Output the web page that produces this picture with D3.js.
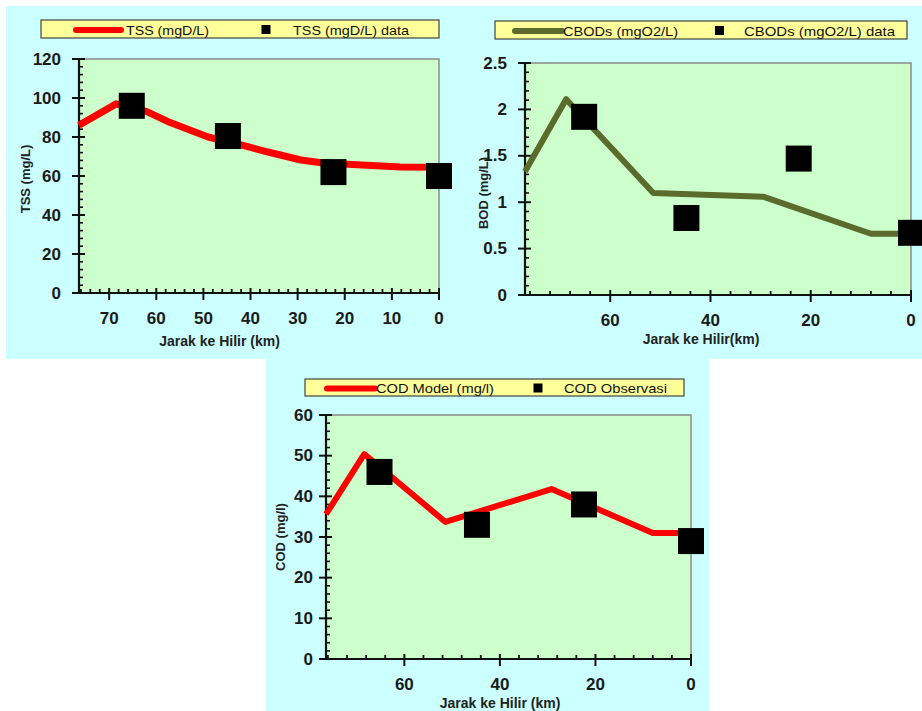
<!DOCTYPE html>
<html><head><meta charset="utf-8">
<script src="https://cdn.jsdelivr.net/npm/d3@7"></script>
<style>
body{margin:0;background:#fff}
svg{display:block}
text{font-family:"Liberation Sans",Arial,sans-serif}
</style>
</head><body>
<svg id="c" width="922" height="711"></svg>
<script>
// ---------- data ----------
const obsKm = [65.2, 44.8, 22.4, 0];

const tssModelKm  = [76.4, 68.5, 62, 57.6, 49, 42, 36.3, 29.3, 25, 19.4, 8.2, 0];
const tssModelVal = [86, 97, 93, 88, 80, 76, 72.3, 68.2, 66.8, 66, 64.6, 64.5];
const tssObs      = [96, 80.5, 62, 60];
const tssXTicks   = [70, 60, 50, 40, 30, 20, 10, 0];
const tssYTicks   = [0, 20, 40, 60, 80, 100, 120];

const bodModelKm  = [77, 68.8, 51.4, 29.5, 8, 0];
const bodModelVal = [1.33, 2.11, 1.10, 1.06, 0.66, 0.66];
const bodObs      = [1.92, 0.83, 1.47, 0.67];
const bodXTicks   = [60, 40, 20, 0];
const bodYTicks   = [0, 0.5, 1, 1.5, 2, 2.5];

const codModelKm  = [76.4, 68.4, 51.4, 29.2, 8, 0];
const codModelVal = [35.6, 50.4, 33.7, 41.8, 31, 31];
const codObs      = [46, 33, 38, 29];
const codXTicks   = [60, 40, 20, 0];
const codYTicks   = [0, 10, 20, 30, 40, 50, 60];

const legendLabels = [
  ["TSS (mgD/L)", "TSS (mgD/L) data"],
  ["CBODs (mgO2/L)", "CBODs (mgO2/L) data"],
  ["COD Model (mg/l)", "COD Observasi"]
];
const xTitles = ["Jarak ke Hilir (km)", "Jarak ke Hilir(km)", "Jarak ke Hilir (km)"];
const yTitles = ["TSS (mg/L)", "BOD (mg/L)", "COD (mg/l)"];

// ---------- layout ----------
const svg = d3.select("#c");
svg.append("rect").attr("x",6).attr("y",6).attr("width",916).attr("height",353).attr("fill","#ccffff");
svg.append("rect").attr("x",266).attr("y",358).attr("width",443).attr("height",353).attr("fill","#ccffff");

const panels = [
  {frame:{x0:79,x1:439,y0:59,y1:293}, xd:[76.4,0], yd:[0,120], xmin:2, ymin:4,
   xt:tssXTicks, yt:tssYTicks, fmt:d=>d, mk:tssModelKm, mv:tssModelVal, ov:tssObs,
   color:"#ff0000", lw:7, lab:18, xdy:25,
   leg:{x:41,y:20,w:398,h:18,l0:76,l1:121,t1:126,w1:83,m:266,t2:293,w2:116},
   xtPos:[219.5,341], ytPos:[25,179], li:0},
  {frame:{x0:525,x1:911,y0:63,y1:295}, xd:[77,0], yd:[0,2.5], xmin:4, ymin:0.1,
   xt:bodXTicks, yt:bodYTicks, fmt:d=>d, mk:bodModelKm, mv:bodModelVal, ov:bodObs,
   color:"#5a6b2c", lw:6, lab:18, xdy:25,
   leg:{x:495,y:21,w:412,h:18,l0:515,l1:562,t1:563,w1:115,m:719.5,t2:744,w2:151},
   xtPos:[701,339], ytPos:[483,193], li:1},
  {frame:{x0:326,x1:691,y0:415,y1:659}, xd:[76.4,0], yd:[0,60], xmin:4, ymin:2,
   xt:codXTicks, yt:codYTicks, fmt:d=>d, mk:codModelKm, mv:codModelVal, ov:codObs,
   color:"#ff0000", lw:6, lab:13, xdy:25,
   leg:{x:305,y:379,w:379,h:17,l0:327,l1:375,t1:376,w1:118,m:538,t2:564,w2:103},
   xtPos:[500,703], ytPos:[280,537], li:2}
];

panels.forEach(p => {
  const f = p.frame;
  const x = d3.scaleLinear().domain(p.xd).range([f.x0, f.x1]);
  const y = d3.scaleLinear().domain(p.yd).range([f.y1, f.y0]);
  const g = svg.append("g");

  // plot area
  g.append("rect").attr("x",f.x0).attr("y",f.y0).attr("width",f.x1-f.x0).attr("height",f.y1-f.y0)
    .attr("fill","#ccffcc");
  g.append("path").attr("d",`M${f.x0},${f.y0}H${f.x1}V${f.y1}`).attr("fill","none")
    .attr("stroke","#8a8a8a").attr("stroke-width",1.5);

  // minor ticks
  const eps = 1e-9;
  const xMinor = d3.range(0, p.xd[0]+eps, p.xmin).filter(v => !p.xt.some(t=>Math.abs(t-v)<eps));
  const yMinor = d3.range(0, p.yd[1]+eps, p.ymin).filter(v => !p.yt.some(t=>Math.abs(t-v)<1e-6));
  g.selectAll(null).data(xMinor).join("line")
    .attr("x1",d=>x(d)).attr("x2",d=>x(d)).attr("y1",f.y1).attr("y2",f.y1-4)
    .attr("stroke","#111").attr("stroke-width",1.8);
  g.selectAll(null).data(yMinor).join("line")
    .attr("y1",d=>y(d)).attr("y2",d=>y(d)).attr("x1",f.x0).attr("x2",f.x0+4)
    .attr("stroke","#111").attr("stroke-width",1.6);

  // major ticks
  g.selectAll(null).data(p.xt).join("line")
    .attr("x1",d=>x(d)).attr("x2",d=>x(d)).attr("y1",f.y1-5).attr("y2",f.y1+7)
    .attr("stroke","#111").attr("stroke-width",2);
  g.selectAll(null).data(p.yt).join("line")
    .attr("y1",d=>y(d)).attr("y2",d=>y(d)).attr("x1",f.x0-7).attr("x2",f.x0+6)
    .attr("stroke","#111").attr("stroke-width",2);

  // axes lines
  g.append("line").attr("x1",f.x0-7).attr("x2",f.x1).attr("y1",f.y1).attr("y2",f.y1)
    .attr("stroke","#111").attr("stroke-width",2.2);
  g.append("line").attr("x1",f.x0).attr("x2",f.x0).attr("y1",f.y0).attr("y2",f.y1)
    .attr("stroke","#111").attr("stroke-width",2.2);

  // tick labels
  g.selectAll(null).data(p.xt).join("text")
    .attr("x",d=>x(d)).attr("y",f.y1+p.xdy).attr("text-anchor","middle")
    .attr("dominant-baseline","central").attr("font-size",17).attr("font-weight","bold")
    .attr("fill","#1a1a1a").text(p.fmt);
  g.selectAll(null).data(p.yt).join("text")
    .attr("x",f.x0-p.lab).attr("y",d=>y(d)).attr("text-anchor","end")
    .attr("dominant-baseline","central").attr("font-size",17).attr("font-weight","bold")
    .attr("fill","#1a1a1a").text(p.fmt);

  // axis titles
  g.append("text").attr("x",p.xtPos[0]).attr("y",p.xtPos[1]).attr("text-anchor","middle")
    .attr("dominant-baseline","central").attr("font-size",14).attr("font-weight","bold")
    .attr("fill","#222").text(xTitles[p.li]);
  g.append("text").attr("transform",`translate(${p.ytPos[0]},${p.ytPos[1]}) rotate(-90)`)
    .attr("text-anchor","middle").attr("dominant-baseline","central")
    .attr("font-size",13).attr("font-weight","bold").attr("fill","#222").text(yTitles[p.li]);

  // model line
  const pts = p.mk.map((k,i)=>[k,p.mv[i]]);
  g.append("path").datum(pts)
    .attr("d", d3.line().x(d=>x(d[0])).y(d=>y(d[1])))
    .attr("fill","none").attr("stroke",p.color).attr("stroke-width",p.lw)
    .attr("stroke-linejoin","round").attr("stroke-linecap","butt");

  // observation markers
  const s = 26;
  g.selectAll(null).data(obsKm.map((k,i)=>[k,p.ov[i]])).join("rect")
    .attr("x",d=>x(d[0])-s/2).attr("y",d=>y(d[1])-s/2).attr("width",s).attr("height",s)
    .attr("fill","#000");

  // legend
  const L = p.leg;
  const lg = svg.append("g");
  lg.append("rect").attr("x",L.x).attr("y",L.y).attr("width",L.w).attr("height",L.h)
    .attr("fill","#ffff99").attr("stroke","#444").attr("stroke-width",1.2);
  const cy = L.y + L.h/2;
  lg.append("line").attr("x1",L.l0).attr("x2",L.l1).attr("y1",cy+1).attr("y2",cy+1)
    .attr("stroke",p.color).attr("stroke-width",6).attr("stroke-linecap","round");
  lg.append("rect").attr("x",L.m-4.5).attr("y",cy-4).attr("width",9).attr("height",9).attr("fill","#000");
  const labs = legendLabels[p.li];
  [[L.t1,L.w1,labs[0]],[L.t2,L.w2,labs[1]]].forEach(([tx,tw,tt])=>{
    lg.append("text").attr("x",tx).attr("y",cy+1).attr("dominant-baseline","central")
      .attr("font-size",13).attr("fill","#111")
      .attr("textLength",tw).attr("lengthAdjust","spacingAndGlyphs").text(tt);
  });
});
</script>
</body></html>
